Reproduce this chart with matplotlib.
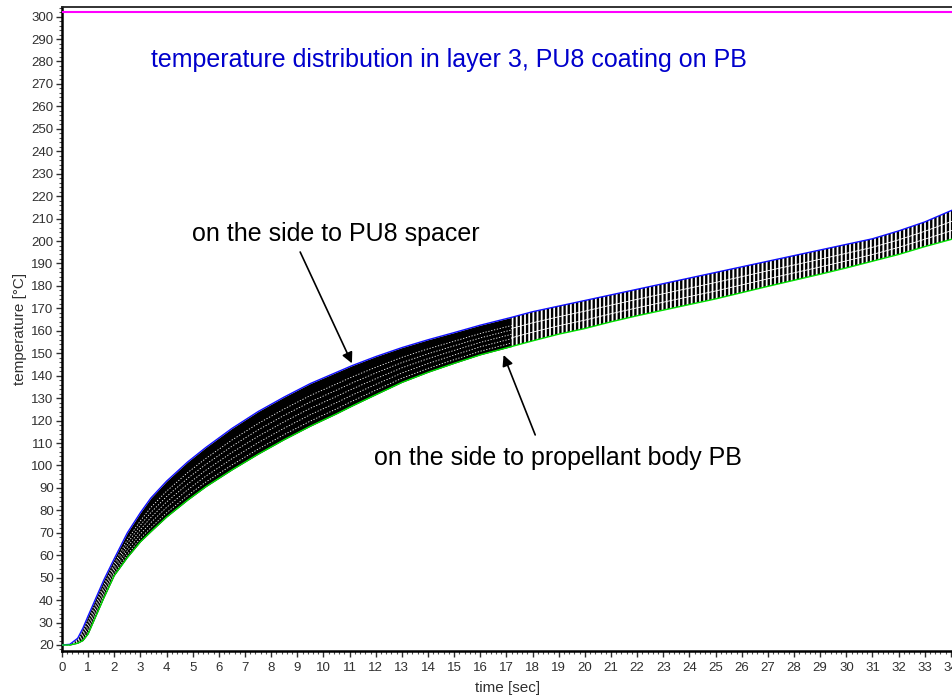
import numpy as np
import matplotlib.pyplot as plt
from matplotlib.ticker import MultipleLocator

plt.rcParams['font.family'] = ['Liberation Sans', 'DejaVu Sans']
plt.rcParams['hatch.linewidth'] = 1.7

# time [sec] and temperatures [°C] on both sides of layer 3
time_pts = [0, 0.3, 0.6, 0.8, 1.0, 1.3, 1.6, 2.0, 2.5, 3.0, 3.4, 4.0, 4.8, 5.5,
            6.5, 7.5, 8.5, 9.5, 10.5, 11.1, 12, 13, 14, 15, 16, 17.2, 18, 19,
            20, 21, 22, 23, 24, 25, 26, 27, 28, 29, 30, 31, 32, 33, 34.1]
temp_pu8 = [20, 20.3, 23, 27.5, 33, 41, 49, 58.5, 70, 79, 85.5, 93, 101.5, 108,
            116.5, 124, 130.5, 136.5, 141.5, 144.5, 148.5, 152.5, 156, 159.2,
            162.5, 166, 168.5, 171, 173.5, 176, 178.5, 181, 183.5, 186, 188.5,
            191, 193.5, 196, 198.5, 201, 204.5, 208.5, 214]
temp_pb = [20, 20, 20.8, 22, 25, 33, 41, 51, 59, 66, 70.5, 77, 84.5, 90.5,
           98, 105, 111.5, 117.5, 123, 126.5, 131.5, 137, 141.5, 145.5, 149.3,
           153, 155.5, 158.5, 161, 164, 166.7, 169.2, 171.7, 174.2, 177,
           179.8, 182.5, 185.2, 188, 191, 194, 197.5, 201]
t_switch = 17.2
limit_temp = 302

t = np.array(time_pts)
hi = np.array(temp_pu8)
lo = np.array(temp_pb)

fig = plt.figure(figsize=(9.53, 6.98), dpi=100)
ax = fig.add_axes([62 / 953, 1 - 650.7 / 698, 1 - 62 / 953, 644 / 698])

dense = t <= t_switch
sparse = t >= t_switch

# dense output steps -> looks solid black
ax.fill_between(t[dense], lo[dense], hi[dense], color='black', lw=0, zorder=2)
# coarser steps afterwards -> separate vertical bars
ax.fill_between(t[sparse], lo[sparse], hi[sparse], facecolor='white',
                edgecolor='black', hatch='||||', lw=0, zorder=2)

# inner nodes show up as small white gaps in the bars
for f in [0.12, 0.27, 0.42, 0.57, 0.72]:
    ax.plot(t[dense], lo[dense] + f * (hi[dense] - lo[dense]), color='white',
            lw=0.6, ls=(0, (1.5, 2)), zorder=3)
for f in [0.3, 0.62]:
    ax.plot(t[sparse], lo[sparse] + f * (hi[sparse] - lo[sparse]),
            color='white', lw=0.6, zorder=3)

ax.plot(t, hi, color='#1010ff', lw=1.0, zorder=4)
ax.plot(t, lo, color='#00e000', lw=1.0, zorder=4)
ax.axhline(limit_temp, color='#ff00ff', lw=1.5, zorder=4)

ax.set_xlim(0, 34.08)
ax.set_ylim(17.46, 304.4)

ax.xaxis.set_major_locator(MultipleLocator(1))
ax.xaxis.set_minor_locator(MultipleLocator(0.2))
ax.yaxis.set_major_locator(MultipleLocator(10))
ax.yaxis.set_minor_locator(MultipleLocator(2))
ax.set_yticks(np.arange(20, 301, 10))

ax.tick_params(axis='both', which='major', direction='out', length=4,
               width=1, labelsize=9.5, labelcolor='#303030', color='#303030')
ax.tick_params(axis='both', which='minor', direction='out', length=2,
               width=0.8, color='#505050')
ax.tick_params(axis='y', which='major', pad=2)
ax.tick_params(axis='x', which='major', pad=4)

for side in ['left', 'bottom']:
    ax.spines[side].set_linewidth(1.8)
ax.spines['top'].set_linewidth(1.3)
ax.spines['top'].set_color('#222222')
ax.spines['right'].set_visible(False)

ax.set_xlabel('time [sec]', fontsize=11, color='#303030', labelpad=5)
ax.set_ylabel('temperature [°C]', fontsize=11, color='#303030', labelpad=3)

fig.text(151 / 953, 1 - 60 / 698,
         'temperature distribution in layer 3, PU8 coating on PB',
         color='#0000cc', fontsize=18, ha='left', va='center')

ax.text(10.49, 203.2, 'on the side to PU8 spacer', fontsize=18,
        ha='center', va='center', color='black')
ax.annotate('', xy=(11.09, 145.5), xytext=(9.11, 195.1),
            arrowprops=dict(arrowstyle='-|>', color='black', lw=1.2,
                            mutation_scale=16, shrinkA=0, shrinkB=0))

ax.text(18.98, 103.3, 'on the side to propellant body PB', fontsize=18,
        ha='center', va='center', color='black')
ax.annotate('', xy=(16.89, 149.2), xytext=(18.1, 113.6),
            arrowprops=dict(arrowstyle='-|>', color='black', lw=1.2,
                            mutation_scale=16, shrinkA=0, shrinkB=0))

fig.savefig('out.png', dpi=100)
